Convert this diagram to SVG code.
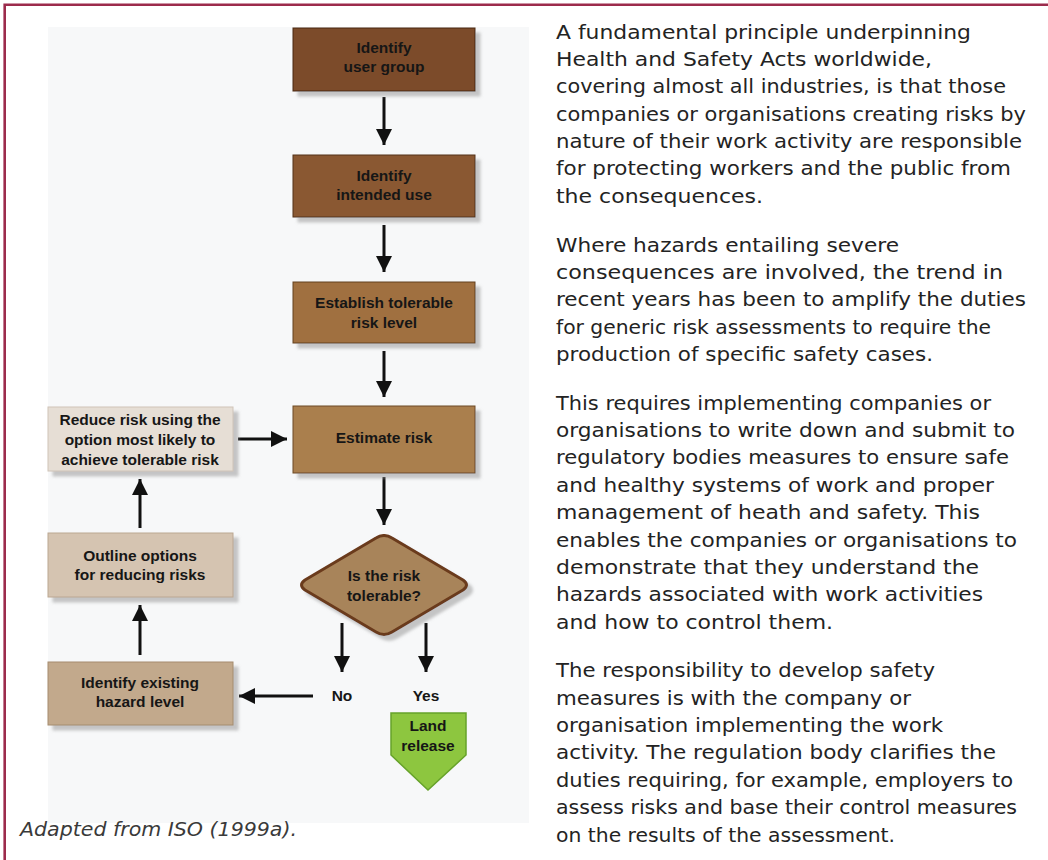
<svg xmlns="http://www.w3.org/2000/svg" width="1048" height="860" viewBox="0 0 1048 860">
<defs>
<style>
.body{font-family:"DejaVu Sans","Liberation Sans",sans-serif;font-size:19px;fill:#232323}
.cap{font-family:"DejaVu Sans","Liberation Sans",sans-serif;font-size:20px;font-style:italic;fill:#3a3a3a}
.lbl{font-family:"Liberation Sans",Arial,sans-serif;font-weight:bold;font-size:15.5px;fill:#161616;text-anchor:middle}
.box{stroke-width:1}
.arr{stroke:#111;stroke-width:3;fill:none;marker-end:url(#ah)}
</style>
<marker id="ah" viewBox="0 0 16 16" refX="16" refY="8" markerWidth="16" markerHeight="16" markerUnits="userSpaceOnUse" orient="auto">
<path d="M0,0 L16,8 L0,16 z" fill="#111"/>
</marker>
<filter id="sh" x="-10%" y="-10%" width="130%" height="140%">
<feDropShadow dx="5" dy="5" stdDeviation="1.5" flood-color="#9a9a9a" flood-opacity="0.55"/>
</filter>
</defs>

<rect x="0" y="0" width="1048" height="860" fill="#ffffff"/>
<path d="M4.7,860 V4.7 H1048" fill="none" stroke="#9c2b4c" stroke-width="2.6"/>

<rect id="figure-bg" x="48" y="27" width="481" height="796" fill="#f7f8f9"/>

<g id="connectors">
<line class="arr" x1="384" y1="97" x2="384" y2="145"/>
<line class="arr" x1="384" y1="225" x2="384" y2="272"/>
<line class="arr" x1="384" y1="351" x2="384" y2="397"/>
<line class="arr" x1="384" y1="477" x2="384" y2="525"/>
<line class="arr" x1="238" y1="439" x2="287" y2="439"/>
<line class="arr" x1="140" y1="528" x2="140" y2="479"/>
<line class="arr" x1="140" y1="655" x2="140" y2="605"/>
<line class="arr" x1="342" y1="623" x2="342" y2="672"/>
<line class="arr" x1="426" y1="623" x2="426" y2="672"/>
<line class="arr" x1="313" y1="696" x2="239" y2="696"/>
</g>

<g id="n-user-group">
<rect class="box" x="293" y="28" width="182" height="63" fill="#7b4b2a" stroke="#4a2814" filter="url(#sh)"/>
<text class="lbl" x="384" y="53">Identify</text>
<text class="lbl" x="384" y="72">user group</text>
</g>
<g id="n-intended-use">
<rect class="box" x="293" y="155" width="182" height="62" fill="#8a5832" stroke="#53301a" filter="url(#sh)"/>
<text class="lbl" x="384" y="181">Identify</text>
<text class="lbl" x="384" y="200">intended use</text>
</g>
<g id="n-tolerable-level">
<rect class="box" x="293" y="282" width="182" height="61" fill="#a0703f" stroke="#63401f" filter="url(#sh)"/>
<text class="lbl" x="384" y="308">Establish tolerable</text>
<text class="lbl" x="384" y="328">risk level</text>
</g>
<g id="n-estimate">
<rect class="box" x="293" y="406" width="182" height="67" fill="#aa7f4e" stroke="#6d4a26" filter="url(#sh)"/>
<text class="lbl" x="384" y="443">Estimate risk</text>
</g>
<g id="n-decision">
<path d="M376,538 Q384,533 392,538 L463,580 Q470,585 463,590 L392,632 Q384,637 376,632 L305,590 Q298,585 305,580 Z" fill="#a8845a" stroke="#6b3a1c" stroke-width="3" stroke-linejoin="round" filter="url(#sh)"/>
<text class="lbl" x="384" y="581">Is the risk</text>
<text class="lbl" x="384" y="601">tolerable?</text>
</g>
<g id="n-reduce">
<rect class="box" x="48" y="407" width="185" height="64" fill="#e6ded5" stroke="#cfc4b8" filter="url(#sh)"/>
<text class="lbl" x="140" y="425">Reduce risk using the</text>
<text class="lbl" x="140" y="445">option most likely to</text>
<text class="lbl" x="140" y="465">achieve tolerable risk</text>
</g>
<g id="n-outline">
<rect class="box" x="48" y="533" width="185" height="64" fill="#d5c4b1" stroke="#bba792" filter="url(#sh)"/>
<text class="lbl" x="140" y="561">Outline options</text>
<text class="lbl" x="140" y="580">for reducing risks</text>
</g>
<g id="n-existing">
<rect class="box" x="48" y="662" width="185" height="63" fill="#c2a98c" stroke="#a58c6f" filter="url(#sh)"/>
<text class="lbl" x="140" y="688">Identify existing</text>
<text class="lbl" x="140" y="707">hazard level</text>
</g>
<g id="n-no"><text class="lbl" x="342" y="701">No</text></g>
<g id="n-yes"><text class="lbl" x="426" y="701">Yes</text></g>
<g id="n-land-release">
<path d="M391,713 H466 V755 L428,790 L391,755 Z" fill="#8dc63f" stroke="#66a22a" stroke-width="1.5"/>
<text class="lbl" x="428" y="731" font-size="14.5">Land</text>
<text class="lbl" x="428" y="751" font-size="14.5">release</text>
</g>

<text class="cap" x="20" y="836" textLength="277" lengthAdjust="spacingAndGlyphs">Adapted from ISO (1999a).</text>

<g id="body-text" class="body">
<text x="556" y="38.5" textLength="415" lengthAdjust="spacingAndGlyphs">A fundamental principle underpinning</text>
<text x="556" y="65.9" textLength="376" lengthAdjust="spacingAndGlyphs">Health and Safety Acts worldwide,</text>
<text x="556" y="93.2" textLength="450" lengthAdjust="spacingAndGlyphs">covering almost all industries, is that those</text>
<text x="556" y="120.6" textLength="470" lengthAdjust="spacingAndGlyphs">companies or organisations creating risks by</text>
<text x="556" y="147.9" textLength="466" lengthAdjust="spacingAndGlyphs">nature of their work activity are responsible</text>
<text x="556" y="175.3" textLength="455" lengthAdjust="spacingAndGlyphs">for protecting workers and the public from</text>
<text x="556" y="202.6" textLength="207" lengthAdjust="spacingAndGlyphs">the consequences.</text>
<text x="556" y="251.5" textLength="343" lengthAdjust="spacingAndGlyphs">Where hazards entailing severe</text>
<text x="556" y="278.8" textLength="447" lengthAdjust="spacingAndGlyphs">consequences are involved, the trend in</text>
<text x="556" y="306.2" textLength="470" lengthAdjust="spacingAndGlyphs">recent years has been to amplify the duties</text>
<text x="556" y="333.5" textLength="435" lengthAdjust="spacingAndGlyphs">for generic risk assessments to require the</text>
<text x="556" y="360.9" textLength="377" lengthAdjust="spacingAndGlyphs">production of specific safety cases.</text>
<text x="556" y="409.7" textLength="435" lengthAdjust="spacingAndGlyphs">This requires implementing companies or</text>
<text x="556" y="437.1" textLength="459" lengthAdjust="spacingAndGlyphs">organisations to write down and submit to</text>
<text x="556" y="464.4" textLength="453" lengthAdjust="spacingAndGlyphs">regulatory bodies measures to ensure safe</text>
<text x="556" y="491.8" textLength="438" lengthAdjust="spacingAndGlyphs">and healthy systems of work and proper</text>
<text x="556" y="519.1" textLength="424" lengthAdjust="spacingAndGlyphs">management of heath and safety. This</text>
<text x="556" y="546.5" textLength="461" lengthAdjust="spacingAndGlyphs">enables the companies or organisations to</text>
<text x="556" y="573.8" textLength="423" lengthAdjust="spacingAndGlyphs">demonstrate that they understand the</text>
<text x="556" y="601.2" textLength="427" lengthAdjust="spacingAndGlyphs">hazards associated with work activities</text>
<text x="556" y="628.5" textLength="277" lengthAdjust="spacingAndGlyphs">and how to control them.</text>
<text x="556" y="677.4" textLength="379" lengthAdjust="spacingAndGlyphs">The responsibility to develop safety</text>
<text x="556" y="704.7" textLength="355" lengthAdjust="spacingAndGlyphs">measures is with the company or</text>
<text x="556" y="732.1" textLength="387" lengthAdjust="spacingAndGlyphs">organisation implementing the work</text>
<text x="556" y="759.4" textLength="440" lengthAdjust="spacingAndGlyphs">activity. The regulation body clarifies the</text>
<text x="556" y="786.8" textLength="457" lengthAdjust="spacingAndGlyphs">duties requiring, for example, employers to</text>
<text x="556" y="814.1" textLength="461" lengthAdjust="spacingAndGlyphs">assess risks and base their control measures</text>
<text x="556" y="841.5" textLength="339" lengthAdjust="spacingAndGlyphs">on the results of the assessment.</text>
</g>
</svg>
